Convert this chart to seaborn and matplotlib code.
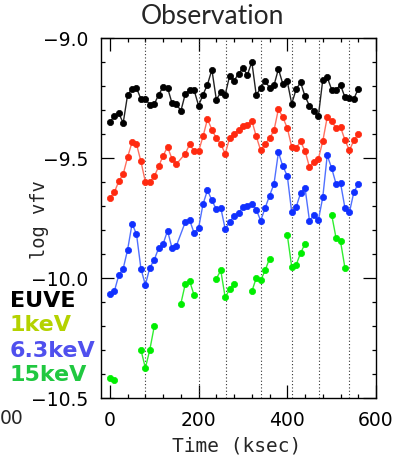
import numpy as np
import pandas as pd
import matplotlib
matplotlib.use("Agg")
import matplotlib.pyplot as plt
import seaborn as sns

sns.set_style("ticks")
plt.rcParams['font.family'] = ['DejaVu Sans']

# time grid (ksec) and light curves
t_all = list(range(0, 570, 10))
t_xray = [t for t in t_all if t != 160]

euve = [-9.351, -9.324, -9.313, -9.354, -9.236, -9.213, -9.208, -9.254, -9.254, -9.278,
        -9.276, -9.236, -9.204, -9.207, -9.271, -9.274, -9.304, -9.233, -9.215, -9.218,
        -9.282, -9.236, -9.194, -9.132, -9.257, -9.226, -9.236, -9.157, -9.178, -9.149,
        -9.125, -9.154, -9.099, -9.238, -9.208, -9.178, -9.208, -9.197, -9.129, -9.192,
        -9.181, -9.274, -9.213, -9.185, -9.243, -9.282, -9.303, -9.326, -9.174, -9.163,
        -9.215, -9.215, -9.196, -9.247, -9.250, -9.254, -9.211]

kev1 = [-9.668, -9.643, -9.597, -9.567, -9.496, -9.434, -9.442, -9.514, -9.600, -9.600,
        -9.577, -9.535, -9.490, -9.454, -9.503, -9.525, -9.482, -9.442, -9.472, -9.472,
        -9.410, -9.338, -9.382, -9.417, -9.442, -9.482, -9.417, -9.399, -9.382, -9.365,
        -9.361, -9.344, -9.410, -9.468, -9.442, -9.417, -9.385, -9.296, -9.331, -9.375,
        -9.454, -9.458, -9.431, -9.470, -9.538, -9.517, -9.504, -9.430, -9.330, -9.347,
        -9.375, -9.371, -9.425, -9.468, -9.427, -9.400]

kev63 = [-10.065, -10.055, -9.989, -9.961, -9.882, -9.774, -9.817, -9.961, -10.029, -9.957,
         -9.924, -9.875, -9.858, -9.803, -9.875, -9.865, -9.767, -9.760, -9.813, -9.792,
         -9.692, -9.634, -9.677, -9.713, -9.707, -9.796, -9.768, -9.740, -9.730, -9.704,
         -9.698, -9.690, -9.715, -9.761, -9.708, -9.657, -9.608, -9.476, -9.535, -9.574,
         -9.727, -9.704, -9.646, -9.625, -9.761, -9.739, -9.759, -9.664, -9.489, -9.542,
         -9.608, -9.604, -9.708, -9.727, -9.643, -9.607]

t_15 = [0, 10, 70, 80, 90, 100, 160, 170, 180, 190, 240, 250, 260, 270, 280,
        320, 330, 340, 350, 360, 400, 410, 420, 430, 440, 500, 510, 520, 530]
kev15 = [-10.417, -10.427, -10.299, -10.375, -10.299, -10.202, -10.107, -10.025, -10.014, -10.072,
         -10.003, -9.968, -10.081, -10.046, -10.025, -10.056, -10.000, -10.010, -9.968, -9.919,
         -9.820, -9.954, -9.945, -9.896, -9.857, -9.736, -9.834, -9.847, -9.958]

obs_breaks = [80, 200, 262, 340, 410, 471, 540]

fig = plt.figure(figsize=(4.06, 4.62), dpi=100)
ax = fig.add_axes([0.2488, 0.1385, 0.6773, 0.7792])

for tb in obs_breaks:
    ax.axvline(tb, color='#333333', linestyle=(0, (1, 2)), linewidth=0.8, zorder=1)

mk = dict(marker='o', markersize=4.5, markeredgewidth=0.5, estimator=None, linewidth=1.0)
sns.lineplot(x=t_all, y=euve, ax=ax, color='#222222', markerfacecolor='black',
             markeredgecolor='black', **mk)
sns.lineplot(x=t_xray, y=kev1, ax=ax, color='#ff7060', markerfacecolor='#ff2a10',
             markeredgecolor='#ff2a10', **mk)
sns.lineplot(x=t_xray, y=kev63, ax=ax, color='#5070ff', markerfacecolor='#1030ff',
             markeredgecolor='#1030ff', **mk)

df15 = pd.DataFrame({'t': t_15, 'v': kev15})
df15['seg'] = (df15['t'].diff() > 10).cumsum()
sns.lineplot(data=df15, x='t', y='v', units='seg', ax=ax, color='#30ee30',
             markerfacecolor='#00ee00', markeredgecolor='#00ee00', **mk)

ax.set_xlim(-20, 600)
ax.set_ylim(-10.5, -9.0)
ax.set_xticks([0, 200, 400, 600])
ax.set_yticks([-10.5, -10.0, -9.5, -9.0])
ax.set_xticks(np.arange(0, 601, 40), minor=True)
ax.set_yticks(np.arange(-10.5, -8.99, 0.1), minor=True)
ax.set_yticklabels(['\u221210.5', '\u221210.0', '\u22129.5', '\u22129.0'])
ax.tick_params(which='both', direction='in', top=True, right=True, width=0.9,
               labelsize=13.5, colors='black')
ax.tick_params(which='major', length=9.5)
ax.tick_params(which='minor', length=3.2)
ax.tick_params(axis='y', pad=9)
ax.tick_params(axis='x', pad=9)
for s in ax.spines.values():
    s.set_linewidth(1.0)
    s.set_color('black')
ax.set_xlabel('')
ax.set_ylabel('')

fig.text(212 / 406, 1 - 17 / 462, 'Observation', ha='center', va='center',
         fontsize=19, family='Lato')
fig.text(237 / 406, 1 - 446 / 462, 'Time (ksec)', ha='center', va='center',
         fontsize=14, family='DejaVu Sans Mono')
fig.text(40 / 406, 1 - 220 / 462, 'log vfv', ha='center', va='center', fontsize=13.5,
         rotation=90, family='DejaVu Sans Mono')
fig.text(0.0, 1 - 418 / 462, '00', ha='left', va='center', fontsize=13.5)

legend_items = [('EUVE', 'black', 301), ('1keV', '#b4d200', 325),
                ('6.3keV', '#5050ee', 351), ('15keV', '#20c840', 375)]
for lab, col, yy in legend_items:
    fig.text(10 / 406, 1 - yy / 462, lab, ha='left', va='center', fontsize=16,
             fontweight='bold', color=col)

fig.savefig('out.png', dpi=100)
